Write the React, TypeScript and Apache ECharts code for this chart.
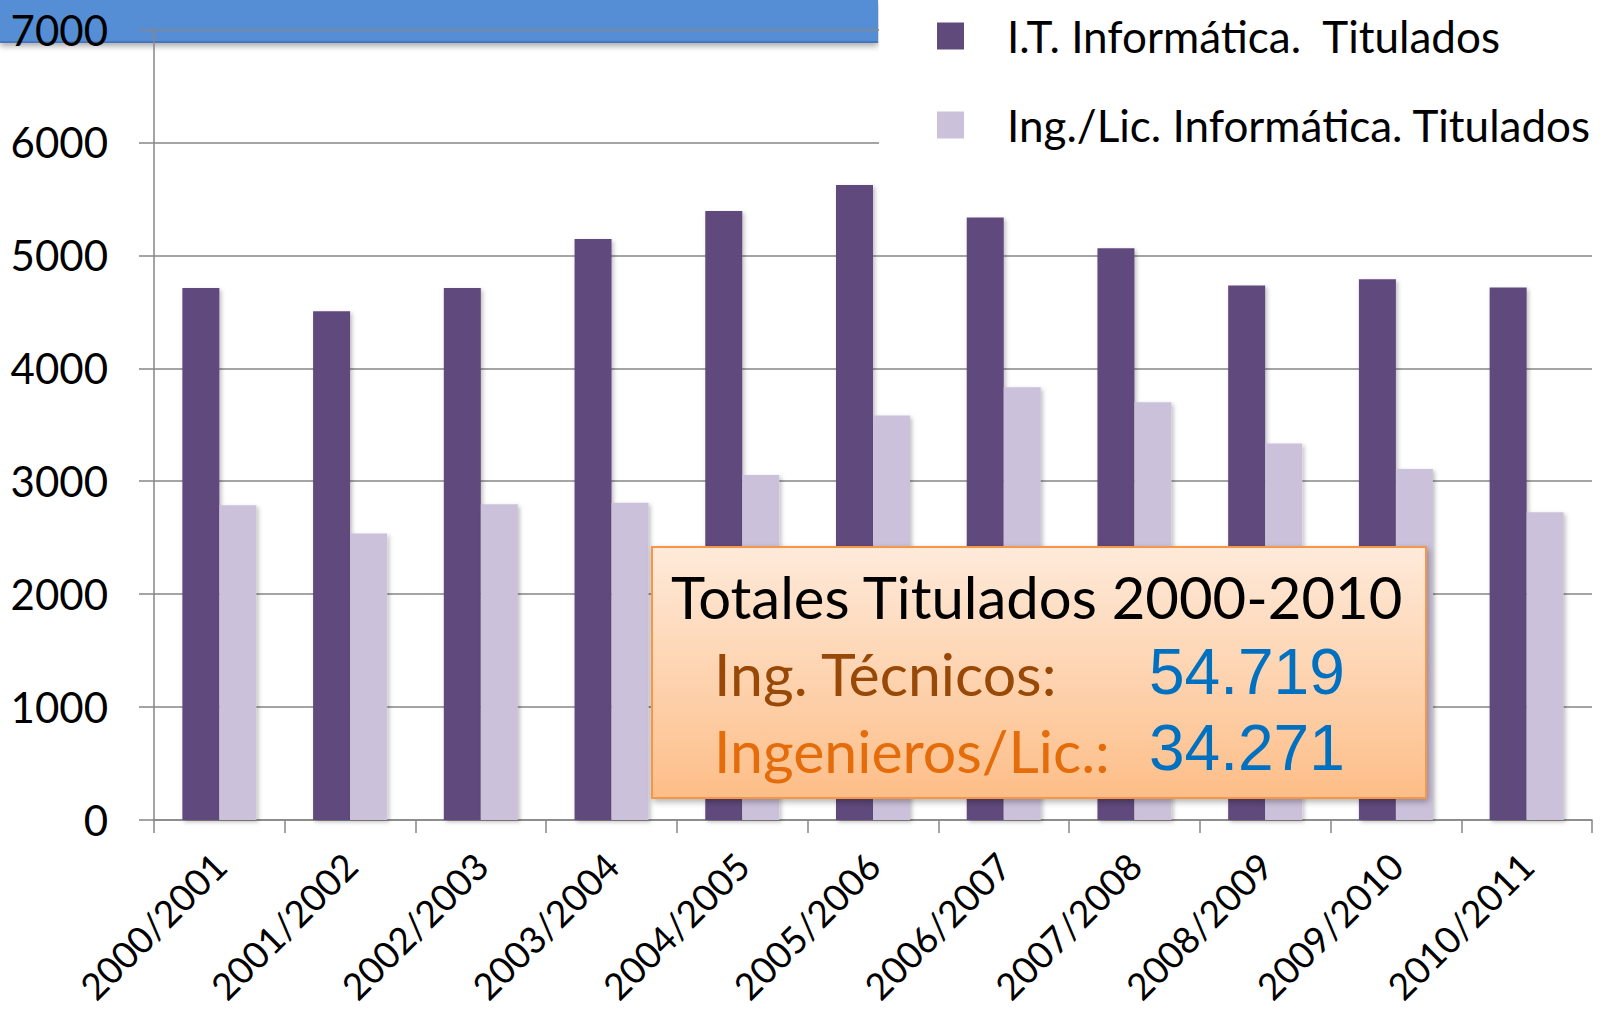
import React, { useEffect, useRef } from 'react';
import * as echarts from 'echarts';

const categories = [
  '2000/2001', '2001/2002', '2002/2003', '2003/2004', '2004/2005', '2005/2006',
  '2006/2007', '2007/2008', '2008/2009', '2009/2010', '2010/2011',
];
const itInformatica = [4710, 4505, 4710, 5145, 5392, 5622, 5336, 5062, 4734, 4788, 4715];
const ingLicInformatica = [2788, 2537, 2797, 2810, 3055, 3582, 3833, 3700, 3335, 3108, 2726];
const seriesNames = ['I.T. Informática.  Titulados', 'Ing./Lic. Informática. Titulados'];
const boxTitle = 'Totales Titulados 2000-2010';
const boxLabels = ['Ing. Técnicos:', 'Ingenieros/Lic.:'];
const boxValues = ['54.719', '34.271'];

export default function App() {
  const ref = useRef<HTMLDivElement>(null);
  useEffect(() => {
    const chart = echarts.init(ref.current!, null, { renderer: 'svg' });
    const font = 'Lato';
    const gray = '#868686';
    chart.setOption({
      animation: false,
      backgroundColor: '#ffffff',
      grid: {
        left: 154,
        right: 13,
        top: 29.5,
        bottom: 190,
        containLabel: false,
        outerBoundsMode: 'none',
      },
      legend: {
        show: true,
        orient: 'vertical',
        left: 937,
        top: 14,
        padding: 0,
        itemWidth: 27,
        itemHeight: 27,
        itemGap: 45,
        icon: 'rect',
        z: 20,
        itemStyle: { shadowBlur: 0, shadowOffsetX: 0, shadowOffsetY: 0 },
        textStyle: {
          fontFamily: font,
          fontSize: 44,
          lineHeight: 42,
          color: '#000',
          padding: [0, 0, 0, 38],
        },
        data: seriesNames,
      },
      xAxis: {
        type: 'category',
        data: categories,
        axisLine: { show: true, lineStyle: { color: gray, width: 1.5 } },
        axisTick: { show: true, length: 13, interval: 0, lineStyle: { color: gray, width: 1.5 } },
        axisLabel: {
          interval: 0,
          rotate: 45,
          margin: 39,
          fontFamily: font,
          fontSize: 37,
          color: '#000',
        },
        splitLine: { show: false },
      },
      yAxis: {
        type: 'value',
        min: 0,
        max: 7000,
        interval: 1000,
        axisLine: { show: true, lineStyle: { color: gray, width: 1.5 } },
        axisTick: { show: true, length: 15, lineStyle: { color: gray, width: 1.5 } },
        axisLabel: {
          margin: 46,
          fontFamily: font,
          fontSize: 42,
          color: '#000',
          formatter: (v: number) => String(v),
        },
        splitLine: { show: true, lineStyle: { color: gray, width: 1.5 } },
      },
      series: [
        {
          name: seriesNames[0],
          type: 'bar',
          data: itInformatica,
          barWidth: 37,
          barGap: '0%',
          itemStyle: {
            color: '#604A7B',
            shadowBlur: 4,
            shadowOffsetX: 2,
            shadowOffsetY: 2,
            shadowColor: 'rgba(0,0,0,0.25)',
          },
        },
        {
          name: seriesNames[1],
          type: 'bar',
          data: ingLicInformatica,
          barWidth: 37,
          barGap: '0%',
          itemStyle: {
            color: '#CCC1DA',
            shadowBlur: 4,
            shadowOffsetX: 2,
            shadowOffsetY: 2,
            shadowColor: 'rgba(0,0,0,0.25)',
          },
        },
      ],
      graphic: [
        {
          type: 'rect',
          z: -10,
          shape: { x: 0, y: 0, width: 878, height: 43 },
          style: {
            fill: '#558ED5',
            shadowBlur: 6,
            shadowOffsetY: 3,
            shadowColor: 'rgba(0,0,0,0.35)',
          },
        },
        {
          type: 'line',
          z: -9,
          shape: { x1: 0, y1: 42, x2: 878, y2: 42 },
          style: { stroke: '#4677BE', lineWidth: 2 },
        },
        {
          type: 'rect',
          z: 1,
          shape: { x: 879, y: 0, width: 726, height: 165 },
          style: { fill: '#ffffff' },
        },
        {
          type: 'rect',
          z: 10,
          shape: { x: 652, y: 547, width: 774, height: 251 },
          style: {
            fill: new echarts.graphic.LinearGradient(0, 0, 0, 1, [
              { offset: 0, color: '#FEEADA' },
              { offset: 1, color: '#FDBE88' },
            ]),
            stroke: '#F79646',
            lineWidth: 2,
            shadowBlur: 6,
            shadowOffsetX: 2,
            shadowOffsetY: 3,
            shadowColor: 'rgba(0,0,0,0.3)',
          },
        },
        {
          type: 'text',
          z: 11,
          x: 671,
          y: 596,
          style: {
            text: boxTitle,
            fontFamily: font,
            fontSize: 58,
            fill: '#000',
            align: 'left',
            verticalAlign: 'middle',
          },
        },
        {
          type: 'text',
          z: 11,
          x: 714,
          y: 673,
          style: {
            text: boxLabels[0],
            fontFamily: font,
            fontSize: 59,
            fill: '#984807',
            align: 'left',
            verticalAlign: 'middle',
          },
        },
        {
          type: 'text',
          z: 11,
          x: 714,
          y: 750,
          style: {
            text: boxLabels[1],
            fontFamily: font,
            fontSize: 59,
            fill: '#E46C0A',
            align: 'left',
            verticalAlign: 'middle',
          },
        },
        {
          type: 'text',
          z: 11,
          x: 1149,
          y: 672,
          style: {
            text: boxValues[0],
            fontFamily: 'Liberation Sans',
            fontSize: 64,
            fill: '#0070C0',
            align: 'left',
            verticalAlign: 'middle',
          },
        },
        {
          type: 'text',
          z: 11,
          x: 1149,
          y: 748,
          style: {
            text: boxValues[1],
            fontFamily: 'Liberation Sans',
            fontSize: 64,
            fill: '#0070C0',
            align: 'left',
            verticalAlign: 'middle',
          },
        },
      ],
    });
    return () => chart.dispose();
  }, []);
  return (
    <div
      ref={ref}
      style={{ position: 'fixed', left: 0, top: 0, width: 1605, height: 1010 }}
    />
  );
}
